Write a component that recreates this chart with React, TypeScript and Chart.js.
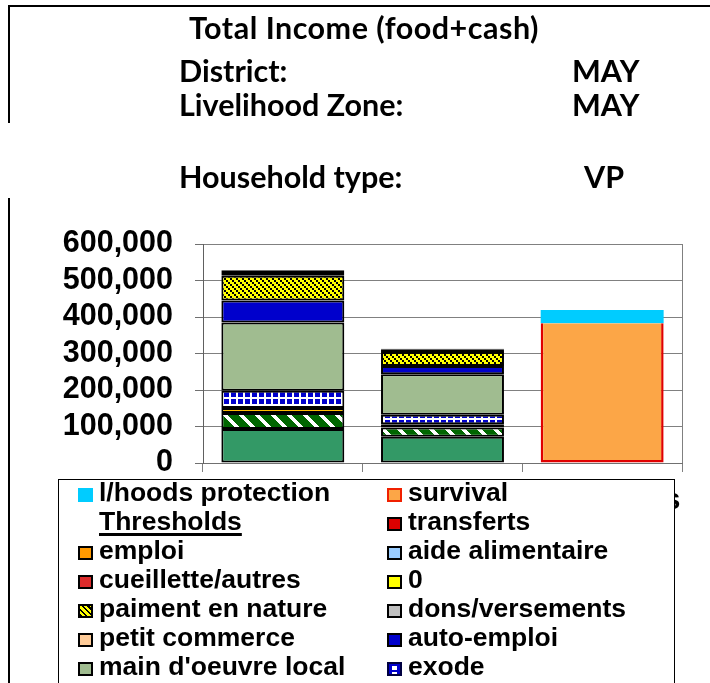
import React, { useEffect, useRef } from 'react';
import { Chart, registerables } from 'chart.js';

Chart.register(...registerables);

// ---------- data ----------
const categories = ['Baseline', 'Scenario', 'Thresholds'];
const yMin = 0;
const yMax = 600000;
const yStep = 100000;

const titleText = 'Total Income (food+cash)';
const infoLabels = ['District:', 'Livelihood Zone:', 'Household type:'];
const infoValues = ['MAY', 'MAY', 'VP'];

// stacked series, bottom of the stack first
const cultures = [93000, 72000, 0];
const venteCultures = [44000, 25000, 0];
const elevage = [14000, 9000, 0];
const exode = [47000, 26000, 0];
const mainOeuvreLocal = [187000, 111000, 0];
const autoEmploi = [60000, 23000, 0];
const petitCommerce = [0, 0, 0];
const donsVersements = [0, 0, 0];
const paimentEnNature = [68000, 38000, 0];
const zeroSeries = [0, 0, 0];
const cueilletteAutres = [5000, 3000, 0];
const aideAlimentaire = [0, 0, 0];
const emploi = [5000, 3000, 0];
const transferts = [5000, 3000, 0];
const thresholds = [0, 0, 0];
const survival = [0, 0, 383000];
const lhoodsProtection = [0, 0, 36000];

type PatternKey = 'greenHatch' | 'yellowHatch' | 'exode';
type SeriesDef = {
  label: string;
  data: number[];
  fill: string;
  border: string;
  width: number;
  pattern?: PatternKey;
  skipTop?: boolean;
  swatch: React.CSSProperties | null;
};

const BLK = '2px solid #000';
const BW = 2;
const SERIES: SeriesDef[] = [
  { label: 'cultures', data: cultures, fill: '#339966', border: '#000', width: BW, swatch: { background: '#339966', border: BLK } },
  { label: 'vente cultures', data: venteCultures, fill: '#006600', border: '#000', width: BW, pattern: 'greenHatch', swatch: { background: '#006600', border: BLK } },
  { label: 'élevage', data: elevage, fill: '#FFC000', border: '#000', width: BW, swatch: { background: '#FFC000', border: BLK } },
  { label: 'exode', data: exode, fill: '#0000CC', border: '#000', width: BW, pattern: 'exode', swatch: { background: '#ffffff', border: '2px solid #000040', backgroundImage: 'linear-gradient(90deg, #0000CC 0 3px, transparent 3px 8px, #0000CC 8px), linear-gradient(#0000CC 0 2px, transparent 2px 6px, #0000CC 6px 8px, transparent 8px)' } },
  { label: "main d'oeuvre local", data: mainOeuvreLocal, fill: '#A0BC90', border: '#000', width: BW, swatch: { background: '#A0BC90', border: BLK } },
  { label: 'auto-emploi', data: autoEmploi, fill: '#0000CC', border: '#000', width: BW, swatch: { background: '#0000CC', border: BLK } },
  { label: 'petit commerce', data: petitCommerce, fill: '#FFCC99', border: '#000', width: BW, swatch: { background: '#FFCC99', border: BLK } },
  { label: 'dons/versements', data: donsVersements, fill: '#C0C0C0', border: '#000', width: BW, swatch: { background: '#C0C0C0', border: BLK } },
  { label: 'paiment en nature', data: paimentEnNature, fill: '#FFFF00', border: '#000', width: BW, pattern: 'yellowHatch', swatch: { background: 'repeating-linear-gradient(45deg, #000 0 1.5px, #FFFF00 1.5px 4px)', border: BLK } },
  { label: '0', data: zeroSeries, fill: '#FFFF00', border: '#000', width: BW, swatch: { background: '#FFFF00', border: BLK } },
  { label: 'cueillette/autres', data: cueilletteAutres, fill: '#DD2C2C', border: '#000', width: BW, swatch: { background: '#DD2C2C', border: BLK } },
  { label: 'aide alimentaire', data: aideAlimentaire, fill: '#99CCFF', border: '#000', width: BW, swatch: { background: '#99CCFF', border: BLK } },
  { label: 'emploi', data: emploi, fill: '#FF9900', border: '#000', width: BW, swatch: { background: '#FF9900', border: BLK } },
  { label: 'transferts', data: transferts, fill: '#CC0000', border: '#000', width: BW, swatch: { background: '#DD0000', border: BLK } },
  { label: 'Thresholds', data: thresholds, fill: 'rgba(0,0,0,0)', border: 'rgba(0,0,0,0)', width: 0, swatch: null },
  { label: 'survival', data: survival, fill: '#FCA647', border: '#E00000', width: 2.5, skipTop: true, swatch: { background: '#FCA647', border: '2px solid #F02000' } },
  { label: 'l/hoods protection', data: lhoodsProtection, fill: '#00CCFF', border: '#00CCFF', width: 0, swatch: { background: '#00CCFF' } },
];

const FONT = "'Liberation Sans', Arial, Helvetica, sans-serif";
const HEAD_FONT = "Lato, 'Open Sans', sans-serif";

function makePattern(w: number, h: number, draw: (g: CanvasRenderingContext2D) => void): CanvasPattern | string {
  const c = document.createElement('canvas');
  c.width = w;
  c.height = h;
  const g = c.getContext('2d');
  if (!g) return '#000';
  draw(g);
  return g.createPattern(c, 'repeat') || '#000';
}

function buildPatterns(): Record<PatternKey, CanvasPattern | string> {
  const greenHatch = makePattern(16, 16, (g) => {
    g.fillStyle = '#006600';
    g.fillRect(0, 0, 16, 16);
    g.fillStyle = '#FFFFFF';
    for (let y = 0; y < 16; y++) for (let x = 0; x < 16; x++) if ((((x - y) % 16) + 16) % 16 < 5) g.fillRect(x, y, 1, 1);
  });
  const yellowHatch = makePattern(6, 6, (g) => {
    g.fillStyle = '#FFFF00';
    g.fillRect(0, 0, 6, 6);
    g.fillStyle = '#000000';
    g.fillRect(0, 0, 2, 2);
    g.fillRect(2, 2, 2, 2);
    g.fillRect(4, 4, 2, 2);
  });
  const exodeP = makePattern(7, 7, (g) => {
    g.fillStyle = '#FFFFFF';
    g.fillRect(0, 0, 7, 7);
    g.fillStyle = '#0000CC';
    g.fillRect(0, 0, 5, 5);
  });
  return { greenHatch, yellowHatch, exode: exodeP };
}

export default function App() {
  const canvasRef = useRef<HTMLCanvasElement>(null);

  useEffect(() => {
    const canvas = canvasRef.current;
    if (!canvas) return;
    const patterns = buildPatterns();
    const datasets = SERIES.map((s) => ({
      label: s.label,
      data: s.data,
      backgroundColor: s.pattern ? patterns[s.pattern] : s.fill,
      borderColor: s.border,
      borderWidth: s.width,
      borderSkipped: s.skipTop ? 'top' : false,
    }));
    const chart = new Chart(canvas, {
      type: 'bar',
      data: { labels: categories, datasets: datasets as any },
      options: {
        animation: false,
        responsive: false,
        maintainAspectRatio: false,
        layout: { padding: { top: 244, right: 28, left: 0, bottom: 0 } },
        datasets: { bar: { categoryPercentage: 1, barPercentage: 0.77 } },
        plugins: { legend: { display: false }, tooltip: { enabled: false }, title: { display: false } },
        scales: {
          x: {
            stacked: true,
            offset: true,
            grid: {
              offset: true,
              color: (ctx: any) => (ctx.type === 'scale' || ctx.index === categories.length ? '#808080' : 'rgba(0,0,0,0)'),
              tickColor: '#808080',
              tickLength: 9,
              lineWidth: 1,
            },
            border: { color: '#707070' },
            ticks: { color: '#000', font: { family: FONT, size: 29, weight: 'bold' }, padding: 12, maxRotation: 0, autoSkip: false },
            afterFit: (s: any) => { s.height = 220; },
          },
          y: {
            stacked: true,
            min: yMin,
            max: yMax,
            ticks: {
              stepSize: yStep,
              autoSkip: false,
              color: '#000',
              font: { family: FONT, size: 30.5, weight: 'bold' },
              padding: 22,
              callback: (v: any) => Number(v).toLocaleString('en-US'),
            },
            grid: { color: '#808080', tickColor: '#707070', tickLength: 8 },
            border: { color: '#606060' },
            afterFit: (s: any) => { s.width = 203; },
          },
        },
      } as any,
    });
    return () => chart.destroy();
  }, []);

  // legend: reversed series order, row-major in two columns
  const legendItems = [...SERIES].reverse();
  const colX = [78, 387];
  const rowY0 = 495;
  const rowH = 29;

  const headText: React.CSSProperties = {
    position: 'absolute', fontFamily: HEAD_FONT, fontWeight: 700, fontSize: 30.5, lineHeight: '34px', color: '#000', whiteSpace: 'nowrap',
  };
  const infoY = [70, 104, 176];

  return (
    <div style={{ position: 'fixed', left: 0, top: 0, width: 710, height: 683, background: '#fff', overflow: 'hidden' }}>
      <canvas ref={canvasRef} width={710} height={683} style={{ position: 'absolute', left: 0, top: 0, display: 'block' }} />
      {/* sheet borders */}
      <div style={{ position: 'absolute', left: 8, top: 5, width: 702, height: 2, background: '#000' }} />
      <div style={{ position: 'absolute', left: 8, top: 5, width: 2, height: 118, background: '#000' }} />
      <div style={{ position: 'absolute', left: 8, top: 198, width: 2, height: 485, background: '#000' }} />
      {/* header */}
      <div style={{ ...headText, left: 189, top: 27 - 17, letterSpacing: 0.5 }}>{titleText}</div>
      {infoLabels.map((t, i) => (
        <div key={'l' + i} style={{ ...headText, left: 179, top: infoY[i] - 17 }}>{t}</div>
      ))}
      {infoValues.map((t, i) => (
        <div key={'v' + i} style={{ ...headText, left: t === 'VP' ? 584 : 572, top: infoY[i] - 17 }}>{t}</div>
      ))}
      {/* legend */}
      <div style={{ position: 'absolute', left: 58, top: 479, width: 617, height: 260, border: '1px solid #000', boxSizing: 'border-box', background: '#fff' }} />
      {legendItems.map((s, i) => {
        const col = i % 2;
        const row = Math.floor(i / 2);
        const cy = rowY0 + row * rowH;
        const x = colX[col];
        return (
          <React.Fragment key={s.label}>
            {s.swatch && (
              <div style={{ position: 'absolute', left: x, top: cy - 7, width: 15, height: 14, boxSizing: 'border-box', ...s.swatch }} />
            )}
            <div
              style={{
                position: 'absolute', left: x + 21, top: cy - 2.5 - 14.5, height: 29, lineHeight: '29px',
                fontFamily: FONT, fontWeight: 700, fontSize: 26.5, color: '#000', whiteSpace: 'nowrap',
                textDecoration: s.swatch ? 'none' : 'underline', textDecorationThickness: 3, textUnderlineOffset: 3,
              }}
            >
              {s.label}
            </div>
          </React.Fragment>
        );
      })}
    </div>
  );
}
